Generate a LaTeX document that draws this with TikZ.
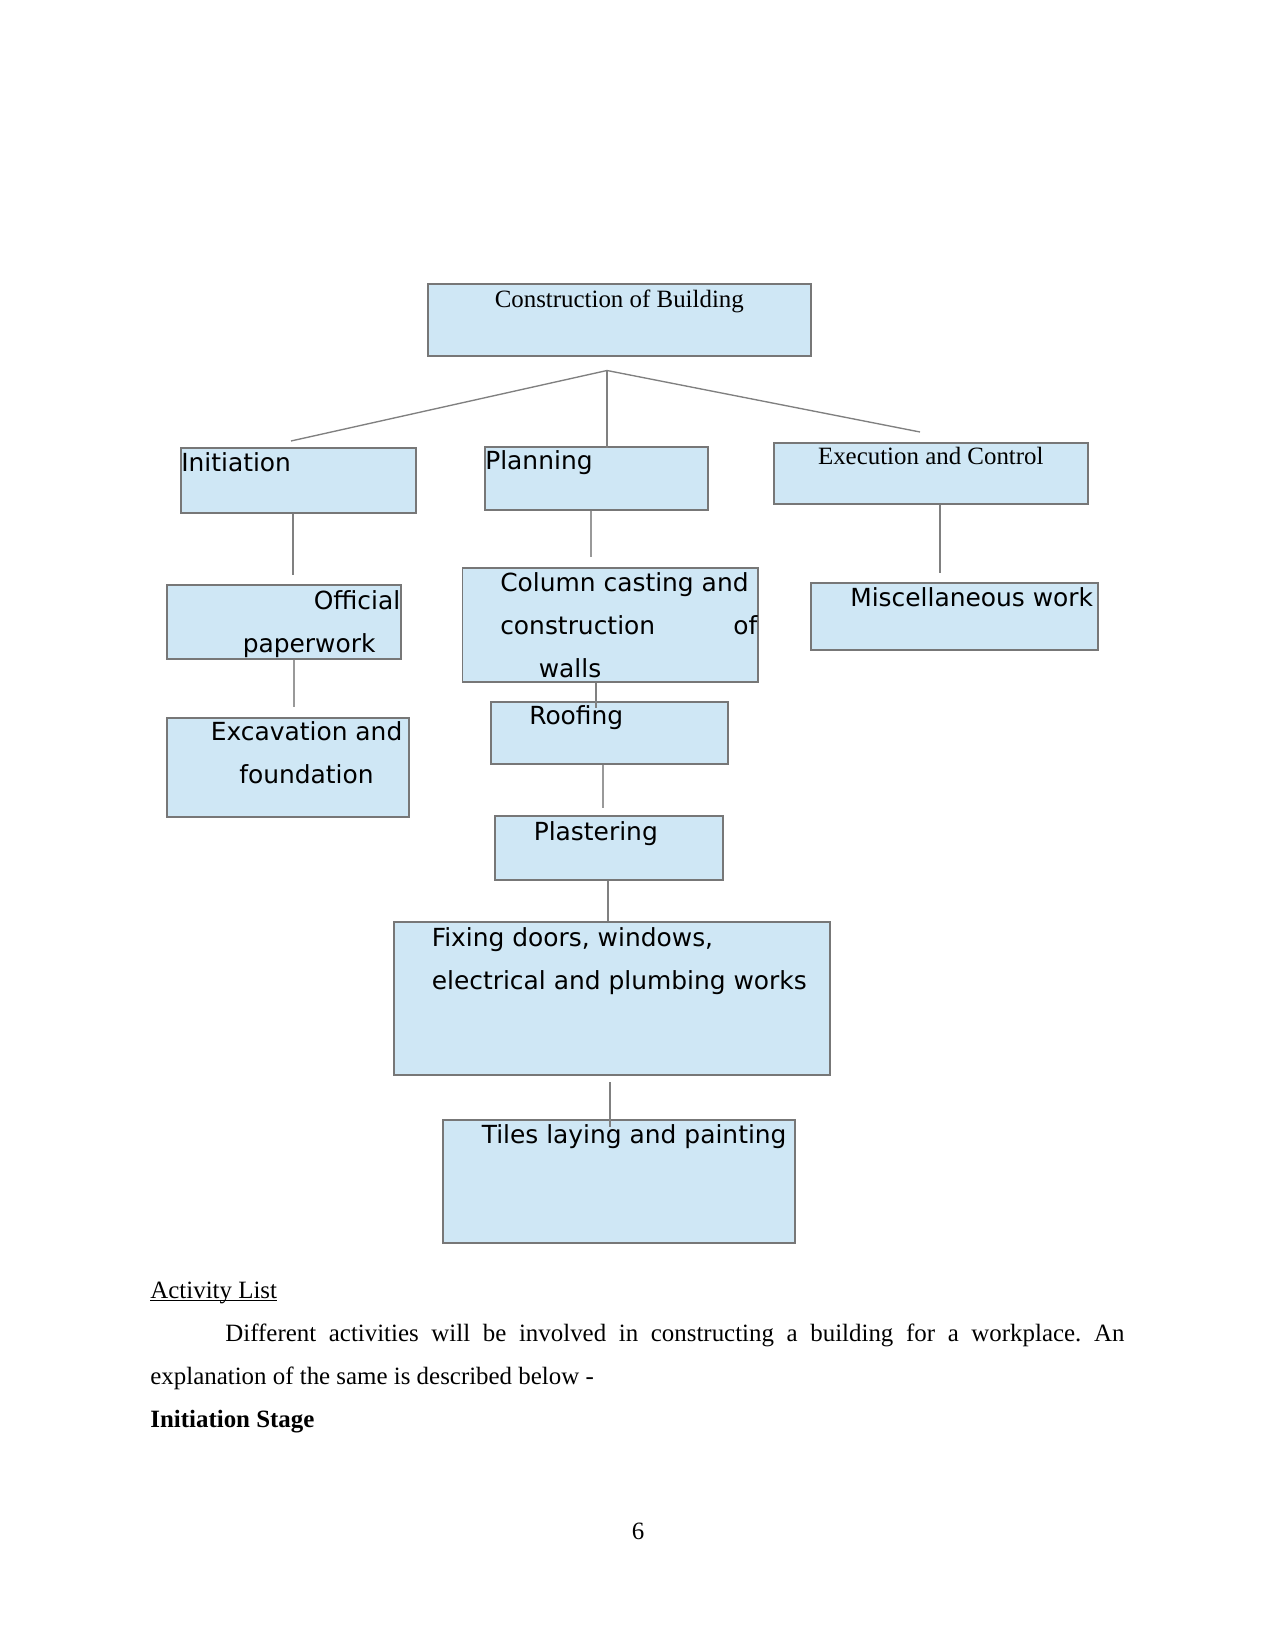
\documentclass[tikz,border=0pt]{standalone}
\usepackage{fontspec}
\setmainfont{Liberation Serif}
\newfontfamily\boxfont{DejaVu Sans}
\definecolor{boxfill}{HTML}{CFE7F5}
\definecolor{boxborder}{HTML}{777777}
\definecolor{linkgray}{HTML}{808080}
\definecolor{faintgray}{HTML}{999999}
\newlength{\pxu}
\setlength{\pxu}{0.4818pt}
\newcommand{\topline}[1]{\fontsize{12}{20.7}\selectfont\vspace*{\dimexpr#1\pxu-10pt\relax}\rule{0pt}{10pt}}
\frenchspacing

\begin{document}
\begin{tikzpicture}[
    x=0.4818pt, y=-0.4818pt,
    taskbox/.style={
        draw=boxborder, fill=boxfill, line width=0.75pt,
        inner sep=0pt, anchor=north west, font=\boxfont
    },
    headbox/.style={taskbox, font=\rmfamily},
    link/.style={linkgray, line width=0.65pt},
    boldlink/.style={linkgray, line width=1pt},
    faintlink/.style={faintgray, line width=0.5pt},
    bodytext/.style={inner sep=0pt, anchor=base west, font=\rmfamily},
]
\path[use as bounding box, fill=white] (0,0) rectangle (1275,1651);

% ===== Top box =====
\node[headbox] (root) at (427,283) {%
    \begin{minipage}[c][72\pxu][t]{383\pxu}\centering
    \topline{24}Construction of Building
    \end{minipage}
};

% ===== Stage boxes =====
\node[taskbox] (init) at (180,447) {%
    \begin{minipage}[c][65\pxu][t]{235\pxu}
    \topline{24}\hspace*{0.5\pxu}Initiation
    \end{minipage}
};

\node[taskbox] (plan) at (484,446) {%
    \begin{minipage}[c][63\pxu][t]{223\pxu}
    \topline{22.5}\hspace*{0.5\pxu}Planning
    \end{minipage}
};

\node[headbox] (exec) at (773,442) {%
    \begin{minipage}[c][61\pxu][t]{314\pxu}\centering
    \topline{22}Execution and Control
    \end{minipage}
};

% ===== Initiation branch =====
\node[taskbox] (paper) at (166,584) {%
    \begin{minipage}[c][74\pxu][t]{234\pxu}
    \topline{24.3}\hfill Official\hspace*{0.5\pxu}\\
    \hspace*{76\pxu}paperwork
    \end{minipage}
};

\node[taskbox] (excav) at (166,717) {%
    \begin{minipage}[c][99\pxu][t]{242\pxu}
    \topline{23}\hspace*{44\pxu}Excavation and\\
    \hspace*{72.5\pxu}foundation
    \end{minipage}
};

% ===== Planning branch =====
\node[taskbox] (column) at (461.5,567) {%
    \begin{minipage}[c][114\pxu][t]{295.5\pxu}
    \topline{24}\hspace*{38\pxu}Column casting and\\
    \hspace*{38\pxu}construction\hfill of\hspace*{0.5\pxu}\\
    \hspace*{76.5\pxu}walls
    \end{minipage}
};

\node[taskbox] (roof) at (490,701) {%
    \begin{minipage}[c][62\pxu][t]{237\pxu}
    \topline{22.3}\hspace*{38.5\pxu}Roofing
    \end{minipage}
};

\node[taskbox] (plaster) at (494,815) {%
    \begin{minipage}[c][64\pxu][t]{228\pxu}
    \topline{24.5}\hspace*{39\pxu}Plastering
    \end{minipage}
};

\node[taskbox] (fixing) at (393,921) {%
    \begin{minipage}[c][153\pxu][t]{436\pxu}
    \topline{24.7}\hspace*{38\pxu}Fixing doors, windows,\\
    \hspace*{38\pxu}electrical and plumbing works
    \end{minipage}
};

\node[taskbox] (tiles) at (442,1119) {%
    \begin{minipage}[c][123\pxu][t]{352\pxu}
    \topline{23.3}\hspace*{39\pxu}Tiles laying and painting
    \end{minipage}
};

% ===== Execution branch =====
\node[taskbox] (misc) at (810,582) {%
    \begin{minipage}[c][67\pxu][t]{287\pxu}
    \topline{24}\hspace*{39.5\pxu}Miscellaneous work
    \end{minipage}
};

% ===== Connector ends =====
\coordinate (fork) at (607,370.5);
\coordinate (initEnd) at (291,441);
\coordinate (execEnd) at (920,432);
\coordinate (planEnd) at (607,448);
\coordinate (paperEnd) at (293,575);
\coordinate (excavEnd) at (294,707);
\coordinate (columnEnd) at (591,557);
\coordinate (miscEnd) at (940,573);
\coordinate (roofEnd) at (596,708);
\coordinate (plasterEnd) at (603,808);
\coordinate (fixingLink) at (608,900);
\coordinate (tilesStart) at (610,1082);
\coordinate (tilesEnd) at (610,1127);

% ===== Connectors =====
\draw[link] (fork) -- (initEnd);
\draw[link] (fork) -- (execEnd);
\draw[link] (fork) -- (planEnd);
\draw[boldlink] (init.south -| paperEnd) -- (paperEnd);
\draw[faintlink] (paper.south -| excavEnd) -- (excavEnd);
\draw[faintlink] (plan.south -| columnEnd) -- (columnEnd);
\draw[boldlink] (exec.south -| miscEnd) -- (miscEnd);
\draw[link] (column.south -| roofEnd) -- (roofEnd);
\draw[faintlink] (roof.south -| plasterEnd) -- (plasterEnd);
\draw[link] (plaster.south -| fixingLink) -- (fixing.north -| fixingLink);
\draw[link] (tilesStart) -- (tilesEnd);

% ===== Text below the chart =====
\node[bodytext] (body) at (150,1298.3) {%
    \begin{minipage}[t]{974\pxu}
    \fontsize{12}{20.7}\selectfont
    {\leavevmode\setbox0\hbox{Activity List}\rlap{\rule[-1.4pt]{\wd0}{0.55pt}}\box0}\par
    \hspace*{75\pxu}Different activities will be involved in constructing a building for a workplace. An\linebreak
    explanation of the same is described below -\par
    \textbf{Initiation Stage}
    \end{minipage}
};

\node[bodytext, anchor=base] (pageno) at (638,1539) {\fontsize{12}{14}\selectfont 6};

\end{tikzpicture}
\end{document}
